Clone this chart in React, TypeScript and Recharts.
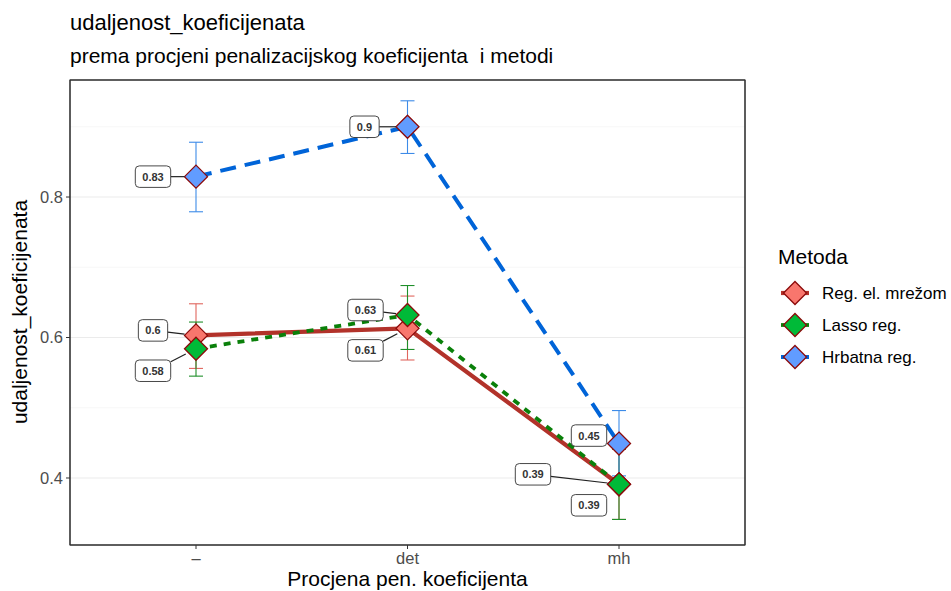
import React from 'react';
import * as RC from 'recharts';
import {
  ComposedChart,
  Line,
  XAxis,
  YAxis,
  CartesianGrid,
  ErrorBar,
  LabelList,
} from 'recharts';

const categories = ['–', 'det', 'mh'];
const methods = ['Reg. el. mrežom', 'Lasso reg.', 'Hrbatna reg.'];

const elasticMean = [0.603, 0.613, 0.391];
const elasticLow = [0.556, 0.568, 0.341];
const elasticHigh = [0.648, 0.659, 0.441];

const lassoMean = [0.584, 0.632, 0.391];
const lassoLow = [0.545, 0.583, 0.341];
const lassoHigh = [0.622, 0.674, 0.441];

const ridgeMean = [0.829, 0.9, 0.449];
const ridgeLow = [0.779, 0.862, 0.403];
const ridgeHigh = [0.878, 0.937, 0.496];

const yTicks = [0.4, 0.6, 0.8];
const yMinorTicks = [0.5, 0.7, 0.9];
const yDomain = [0.3046, 0.9666];

// where ggrepel pushed each label (px from the point)
const labelShift = {
  elastic: [[-43, -5], [-42, 22], [-30, 21]],
  lasso: [[-43, 22], [-42, -5], [-86, -10]],
  ridge: [[-43, 0], [-43, 0], [-30, -8]],
};

const FONT = '"Liberation Sans", Arial, Helvetica, sans-serif';

const seriesStyle = [
  { key: 'elastic', fill: '#F8766D', line: '#B2322A', width: 4.2, dash: undefined, err: '#E0665E' },
  { key: 'lasso', fill: '#00BA38', line: '#0A800A', width: 3.8, dash: '7 7', err: '#1F8F2A' },
  { key: 'ridge', fill: '#619CFF', line: '#0064D8', width: 4, dash: '16 9', err: '#3D8BE8' },
];

const rows = categories.map((cat, i) => ({
  cat,
  elastic: elasticMean[i],
  elasticErr: [elasticMean[i] - elasticLow[i], elasticHigh[i] - elasticMean[i]],
  lasso: lassoMean[i],
  lassoErr: [lassoMean[i] - lassoLow[i], lassoHigh[i] - lassoMean[i]],
  ridge: ridgeMean[i],
  ridgeErr: [ridgeMean[i] - ridgeLow[i], ridgeHigh[i] - ridgeMean[i]],
}));

const R = 11.5;

function Diamond({ cx, cy, fill }: { cx: number; cy: number; fill: string }) {
  if (cx == null || cy == null) return null;
  return (
    <polygon
      points={`${cx},${cy - R} ${cx + R},${cy} ${cx},${cy + R} ${cx - R},${cy}`}
      fill={fill}
      stroke="#8B0A0A"
      strokeWidth={1.3}
    />
  );
}

function makeLabel(shift: number[][]) {
  return (p: any) => {
    const px = p.x ?? p.viewBox?.x;
    const py = p.y ?? p.viewBox?.y;
    const idx = p.index ?? 0;
    if (px == null || py == null || p.value == null) return null;
    const [dx, dy] = shift[idx];
    const text = String(Number(Number(p.value).toFixed(2)));
    const digits = text.replace('.', '').length;
    const w = 11 * (0.556 * digits + 0.278) + 14;
    const h = 21.5;
    const lx = px + dx;
    const ly = py + dy;
    const L = Math.hypot(dx, dy);
    const tx = dx === 0 ? Infinity : w / 2 / Math.abs(dx);
    const ty = dy === 0 ? Infinity : h / 2 / Math.abs(dy);
    const t = Math.min(tx, ty);
    const remaining = L * (1 - t) - R;
    let seg = null;
    if (remaining > 8) {
      const sx = lx - dx * t;
      const sy = ly - dy * t;
      const ex = px + (dx / L) * R;
      const ey = py + (dy / L) * R;
      seg = <line x1={sx} y1={sy} x2={ex} y2={ey} stroke="#222" strokeWidth={1.2} />;
    }
    return (
      <g key={`lab-${idx}`}>
        {seg}
        <rect x={lx - w / 2} y={ly - h / 2} width={w} height={h} rx={4} ry={4} fill="#fff" stroke="#333" strokeWidth={0.9} />
        <text x={lx} y={ly} textAnchor="middle" dominantBaseline="central" fontFamily={FONT} fontSize={11} fontWeight={700} fill="#333">
          {text}
        </text>
      </g>
    );
  };
}

// panel border (theme_bw) from the chart's own plot area
function PanelBorder() {
  const hook = (RC as any).usePlotArea;
  const area = typeof hook === 'function' ? hook() : null;
  if (!area) return null;
  return (
    <rect x={area.x} y={area.y} width={area.width} height={area.height} fill="none" stroke="#333" strokeWidth={1.1} />
  );
}

function Overlay() {
  return (
    <svg width={951} height={591} style={{ position: 'absolute', left: 0, top: 0, pointerEvents: 'none' }}>
      <text x={70} y={30} fontFamily={FONT} fontSize={22} fill="#000">udaljenost_koeficijenata</text>
      <text x={70} y={63} fontFamily={FONT} fontSize={21} fill="#000" style={{ whiteSpace: 'pre' }}>
        prema procjeni penalizacijskog koeficijenta  i metodi
      </text>
      <text x={407.5} y={586} textAnchor="middle" fontFamily={FONT} fontSize={21} fill="#000">Procjena pen. koeficijenta</text>
      <text
        transform="translate(27,312) rotate(-90)"
        textAnchor="middle"
        fontFamily={FONT}
        fontSize={21}
        fill="#000"
      >
        udaljenost_koeficijenata
      </text>
      <text x={778} y={264} fontFamily={FONT} fontSize={21} fill="#000">Metoda</text>
      {methods.map((m, i) => {
        const s = seriesStyle[i];
        const cy = 293 + i * 32;
        return (
          <g key={m}>
            <line x1={781} y1={cy} x2={809} y2={cy} stroke={s.line} strokeWidth={s.width} />
            <Diamond cx={795} cy={cy} fill={s.fill} />
            <text x={822} y={cy} dominantBaseline="central" fontFamily={FONT} fontSize={17} fill="#000">{m}</text>
          </g>
        );
      })}
    </svg>
  );
}

const frameLine = { stroke: '#333', strokeWidth: 1.1 };

export default function App() {
  return (
    <div style={{ position: 'absolute', left: 0, top: 0, width: 951, height: 591, background: '#fff', fontFamily: FONT }}>
      <ComposedChart
        width={951}
        height={591}
        data={rows}
        margin={{ top: 79, right: 205, bottom: 0, left: 0 }}
      >
        <CartesianGrid vertical={false} yAxisId="minor" stroke="#F3F3F3" strokeWidth={0.7} />
        <CartesianGrid vertical={false} stroke="#EBEBEB" strokeWidth={1.1} />
        <XAxis
          dataKey="cat"
          scale="point"
          padding={{ left: 126, right: 126 }}
          height={46}
          interval={0}
          tickSize={4}
          tickMargin={3}
          axisLine={frameLine}
          tickLine={{ stroke: '#333' }}
          tick={{ fill: '#4D4D4D', fontSize: 16.5, fontFamily: FONT }}
        />
        <XAxis
          xAxisId="top"
          orientation="top"
          dataKey="cat"
          scale="point"
          height={1}
          tick={false}
          tickLine={false}
          axisLine={frameLine}
        />
        <YAxis
          type="number"
          domain={yDomain}
          allowDataOverflow
          ticks={yTicks}
          width={70}
          tickSize={4}
          tickMargin={3}
          axisLine={frameLine}
          tickLine={{ stroke: '#333' }}
          tick={{ fill: '#4D4D4D', fontSize: 16.5, fontFamily: FONT }}
          tickFormatter={(v: number) => v.toFixed(1)}
        />
        <YAxis
          yAxisId="right"
          orientation="right"
          type="number"
          domain={yDomain}
          allowDataOverflow
          width={1}
          tick={false}
          tickLine={false}
          axisLine={frameLine}
        />
        <YAxis yAxisId="minor" type="number" domain={yDomain} allowDataOverflow ticks={yMinorTicks} hide />

        {/* invisible series so the top / right frame axes get drawn */}
        <Line
          xAxisId="top"
          yAxisId="right"
          dataKey="elastic"
          stroke="none"
          dot={false}
          activeDot={false}
          isAnimationActive={false}
        />

        {seriesStyle.map((s) => (
          <Line
            key={`${s.key}-err`}
            dataKey={s.key}
            stroke="none"
            dot={false}
            activeDot={false}
            isAnimationActive={false}
          >
            <ErrorBar dataKey={`${s.key}Err`} width={7} stroke={s.err} strokeWidth={1.1} direction="y" />
          </Line>
        ))}

        {seriesStyle.map((s) => (
          <Line
            key={`${s.key}-line`}
            dataKey={s.key}
            stroke={s.line}
            strokeWidth={s.width}
            strokeDasharray={s.dash}
            dot={false}
            activeDot={false}
            isAnimationActive={false}
          />
        ))}

        {seriesStyle.map((s) => (
          <Line
            key={`${s.key}-pt`}
            dataKey={s.key}
            stroke="none"
            dot={(p: any) => <Diamond key={`${s.key}-d-${p.index}`} cx={p.cx} cy={p.cy} fill={s.fill} />}
            activeDot={false}
            isAnimationActive={false}
          />
        ))}

        {seriesStyle.map((s) => (
          <Line
            key={`${s.key}-lab`}
            dataKey={s.key}
            stroke="none"
            dot={false}
            activeDot={false}
            isAnimationActive={false}
          >
            <LabelList dataKey={s.key} content={makeLabel((labelShift as any)[s.key])} />
          </Line>
        ))}
        <PanelBorder />
      </ComposedChart>
      <Overlay />
    </div>
  );
}
